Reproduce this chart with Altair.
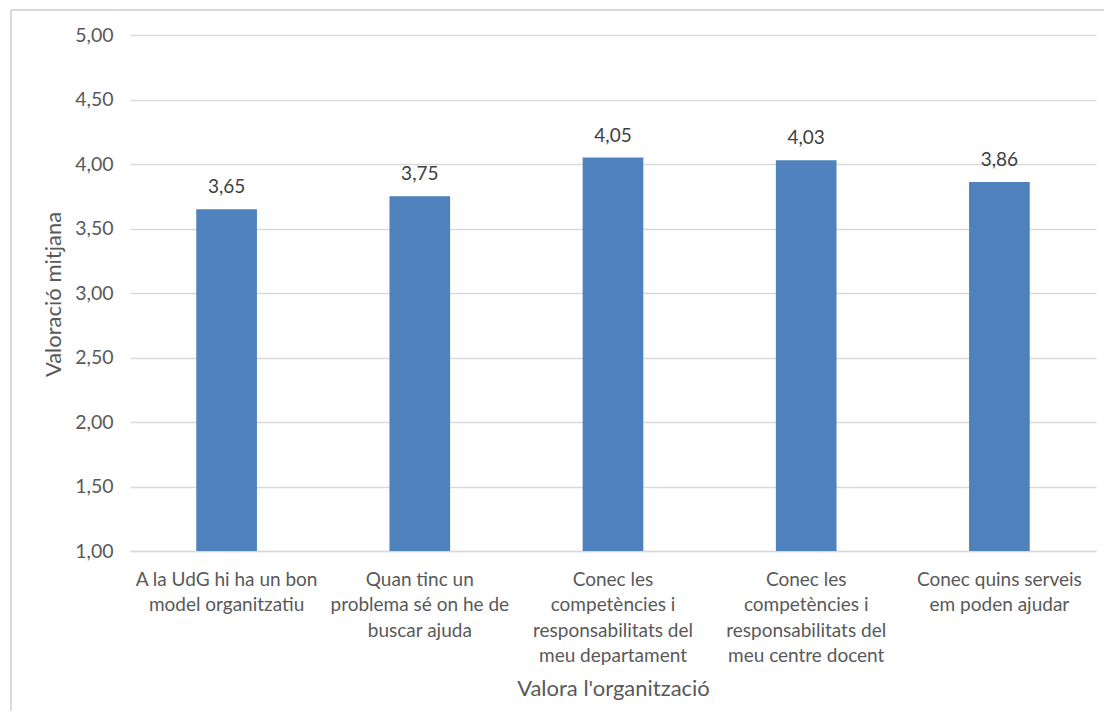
import altair as alt
import pandas as pd

categories = [
    "A la UdG hi ha un bon\nmodel organitzatiu",
    "Quan tinc un\nproblema sé on he de\nbuscar ajuda",
    "Conec les\ncompetències i\nresponsabilitats del\nmeu departament",
    "Conec les\ncompetències i\nresponsabilitats del\nmeu centre docent",
    "Conec quins serveis\nem poden ajudar",
]
values = [3.65, 3.75, 4.05, 4.03, 3.86]

df = pd.DataFrame({"cat": categories, "val": values})

FONT = "Lato"
W, H = 966, 516
yscale = alt.Scale(domain=[1, 5], nice=False, zero=False)
xscale = alt.Scale(paddingInner=0.686, paddingOuter=0.343)

x_enc = alt.X(
    "cat:N",
    sort=categories,
    scale=xscale,
    axis=alt.Axis(
        title="Valora l'organització",
        labelExpr="split(datum.label, '\\n')",
        labelAngle=0,
        labelFont=FONT,
        labelFontSize=19,
        labelColor="#595959",
        labelLineHeight=25.5,
        labelBaseline="top",
        labelPadding=19,
        labelLimit=0,
        ticks=False,
        domain=True,
        domainColor="#d9d9d9",
        domainWidth=1.3,
        grid=False,
        titleFont=FONT,
        titleFontSize=22,
        titleFontWeight="normal",
        titleColor="#595959",
        titleX=483,
        titleY=137,
        titleBaseline="middle",
        titleAlign="center",
    ),
)

y_enc = alt.Y(
    "val:Q",
    scale=yscale,
    axis=alt.Axis(
        title="Valoració mitjana",
        values=[1, 1.5, 2, 2.5, 3, 3.5, 4, 4.5, 5],
        labelExpr="replace(format(datum.value, '.2f'), '.', ',')",
        labelFont=FONT,
        labelFontSize=19.5,
        labelColor="#595959",
        labelPadding=17,
        ticks=False,
        domain=False,
        grid=True,
        gridColor="#d9d9d9",
        gridWidth=1.3,
        titleFont=FONT,
        titleFontSize=22,
        titleFontWeight="normal",
        titleColor="#595959",
        titleAngle=270,
        titleX=-77,
        titleY=259,
        titleBaseline="middle",
        titleAlign="center",
    ),
)

bars = alt.Chart(df).mark_bar(color="#4F81BD").encode(
    x=x_enc,
    y=y_enc,
    y2=alt.datum(1),
)

labels = alt.Chart(df).transform_calculate(
    lbl="replace(format(datum.val, '.2f'), '.', ',')"
).mark_text(
    font=FONT, fontSize=19, color="#404040", baseline="middle", dy=-22
).encode(
    x=alt.X("cat:N", sort=categories),
    y=alt.Y("val:Q"),
    text="lbl:N",
)

border_top = alt.Chart(df).mark_rule(color="#d9d9d9", strokeWidth=2).encode(
    x=alt.value(-119), x2=alt.value(1100), y=alt.value(-25)
)
border_left = alt.Chart(df).mark_rule(color="#d9d9d9", strokeWidth=2).encode(
    x=alt.value(-119), y=alt.value(-25), y2=alt.value(720)
)

chart = alt.layer(bars, labels, border_top, border_left).properties(
    width=W,
    height=H,
    background="white",
    autosize=alt.AutoSizeParams(type="none"),
    padding={"left": 122, "top": 27, "right": 8, "bottom": 160},
).configure_view(stroke=None)

chart.save("out.html", embed_options={"renderer": "svg", "actions": False})
